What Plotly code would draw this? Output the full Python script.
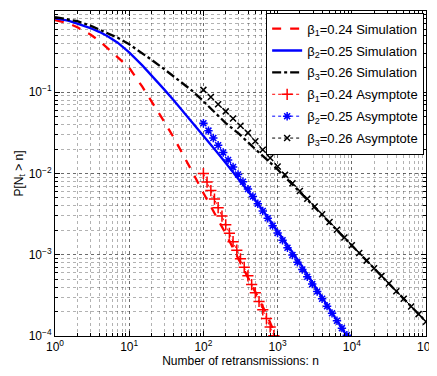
import plotly.graph_objects as go

# ---- data ----
n_sim1 = [1, 1.5, 2, 3, 4, 5, 7, 10, 15, 20, 30, 40, 50, 70, 100, 150, 200, 300, 400, 500, 700, 900, 935]
p_sim1 = [0.776, 0.708, 0.631, 0.513, 0.427, 0.355, 0.275, 0.200, 0.117, 0.0776, 0.0427, 0.0275,
          0.0191, 0.0107, 0.00575, 0.00295, 0.00182, 0.000871, 0.000525, 0.000355, 0.000191, 0.000112, 0.0001]

n_sim2 = [1, 1.5, 2, 3, 4, 5, 7, 10, 15, 20, 30, 40, 50, 70, 100, 150, 200, 300, 400, 500, 700,
          1000, 1500, 2000, 3000, 4000, 5000, 7000, 8500, 8600]
p_sim2 = [0.813, 0.759, 0.700, 0.617, 0.550, 0.495, 0.407, 0.309, 0.214, 0.162, 0.107, 0.0794,
          0.0624, 0.0432, 0.0292, 0.0186, 0.0135, 0.00851, 0.00610, 0.00468, 0.00309,
          0.00197, 0.00116, 0.000794, 0.000447, 0.000299, 0.000219, 0.000136, 0.000104, 0.0001]

n_sim3 = [1, 1.5, 2, 3, 4, 5, 7, 10, 15, 20, 30, 40, 50, 70, 100, 150, 200, 300, 400, 500, 700,
          1000, 2000, 4000, 10000, 20000, 40000, 100000]
p_sim3 = [0.841, 0.794, 0.750, 0.661, 0.589, 0.537, 0.468, 0.389, 0.302, 0.251, 0.191, 0.155,
          0.132, 0.105, 0.0776, 0.0537, 0.0417, 0.0309, 0.0245, 0.0200, 0.0151,
          0.0112, 0.00589, 0.00309, 0.00129, 0.000676, 0.000355, 0.000150]

n_asy1 = [100, 112, 126, 141, 158, 178, 200, 224, 251, 282, 316, 355, 398, 447, 501, 562, 631, 708, 794, 891]
p_asy1 = [0.0100, 0.00785, 0.00617, 0.00484, 0.0038, 0.00299, 0.00234, 0.00184, 0.00145, 0.00114,
          0.00089, 0.0007, 0.00055, 0.00043, 0.00034, 0.000266, 0.00021, 0.000164, 0.000129, 0.000101]

n_asy2 = [100, 117, 136, 158, 185, 215, 251, 293, 341, 398, 464, 541, 631, 736, 858, 1000, 1166, 1359,
          1585, 1848, 2154, 2512, 2929, 3415, 3981, 4642, 5412, 6310, 7356, 8577]
p_asy2 = [0.0415, 0.0337, 0.0274, 0.0223, 0.0181, 0.0147, 0.0120, 0.00973, 0.00791, 0.00643,
          0.00522, 0.00425, 0.00345, 0.00281, 0.00228, 0.00185, 0.00151, 0.00122, 0.000995, 0.000809,
          0.000658, 0.000535, 0.000435, 0.000353, 0.000287, 0.000233, 0.000190, 0.000154, 0.000125, 0.000102]

n_asy3 = [100, 126, 158, 200, 251, 316, 398, 501, 631, 794, 1000, 1259, 1585, 1995, 2512, 3162, 3981,
          5012, 6310, 7943, 10000, 12589, 15849, 19953, 25119, 31623, 39811, 50119, 63096, 79433, 100000]
p_asy3 = [0.107, 0.0875, 0.0713, 0.0582, 0.0475, 0.0387, 0.0316, 0.0249, 0.0196, 0.0155, 0.0122,
          0.00962, 0.00759, 0.00610, 0.00489, 0.00393, 0.00315, 0.00253, 0.00203, 0.00163, 0.00131,
          0.00105, 0.000847, 0.000682, 0.000550, 0.000443, 0.000356, 0.000287, 0.000231, 0.000186, 0.000150]

names = ["β<sub>1</sub>=0.24 Simulation", "β<sub>2</sub>=0.25 Simulation", "β<sub>3</sub>=0.26 Simulation",
         "β<sub>1</sub>=0.24 Asymptote", "β<sub>2</sub>=0.25 Asymptote", "β<sub>3</sub>=0.26 Asymptote"]

x_tickvals = [1, 10, 100, 1000, 10000, 100000]
x_ticktext = ["10<sup>0</sup>", "10<sup>1</sup>", "10<sup>2</sup>", "10<sup>3</sup>", "10<sup>4</sup>", "10<sup>5</sup>"]
y_tickvals = [1e-4, 1e-3, 1e-2, 1e-1, 1]
y_ticktext = ["10<sup>−4</sup>", "10<sup>−3</sup>", "10<sup>−2</sup>", "10<sup>−1</sup>", "10<sup>0</sup>"]

RED, BLUE, BLACK = "#ff0000", "#0000ff", "#000000"
FONT = "Liberation Sans, Arial, sans-serif"

fig = go.Figure()
fig.add_trace(go.Scatter(x=n_sim1, y=p_sim1, mode="lines", name=names[0], legendgroup="a",
                         line=dict(color=RED, width=2.3, dash="dash")))
fig.add_trace(go.Scatter(x=n_sim2, y=p_sim2, mode="lines", name=names[1], legendgroup="b",
                         line=dict(color=BLUE, width=2.3)))
fig.add_trace(go.Scatter(x=n_sim3, y=p_sim3, mode="lines", name=names[2], legendgroup="c",
                         line=dict(color=BLACK, width=2.3, dash="dashdot")))
fig.add_trace(go.Scatter(x=n_asy1, y=p_asy1, mode="lines+markers", name=names[3], legendgroup="d",
                         line=dict(color=RED, width=1, dash="dot"),
                         marker=dict(symbol="cross-thin", size=8, line=dict(color=RED, width=1.5))))
fig.add_trace(go.Scatter(x=n_asy2, y=p_asy2, mode="lines+markers", name=names[4], legendgroup="e",
                         line=dict(color=BLUE, width=1, dash="dot"),
                         marker=dict(symbol="asterisk-open", size=7, line=dict(color=BLUE, width=1.5))))
fig.add_trace(go.Scatter(x=n_asy3, y=p_asy3, mode="lines+markers", name=names[5], legendgroup="f",
                         line=dict(color=BLACK, width=1, dash="dot"),
                         marker=dict(symbol="x-thin-open", size=6, line=dict(color=BLACK, width=1.5))))

axis_common = dict(
    type="log", showline=True, linecolor="black", linewidth=1, mirror="ticks",
    ticks="inside", ticklen=5, tickcolor="black", automargin=False,
    showgrid=True, gridcolor="rgba(0,0,0,0.4)", griddash="dot", gridwidth=1,
    zeroline=False,
    minor=dict(dtick="D1", ticks="inside", ticklen=3, tickcolor="black",
               showgrid=True, gridcolor="rgba(0,0,0,0.3)", griddash="dot", gridwidth=1),
    tickfont=dict(family=FONT, size=12, color="black"),
)

fig.update_xaxes(**axis_common, range=[0, 5], tickvals=x_tickvals, ticktext=x_ticktext,
                 title=dict(text="Number of retransmissions: n", standoff=2,
                            font=dict(family=FONT, size=12, color="black")))
fig.update_yaxes(**axis_common, range=[-4, 0], tickvals=y_tickvals, ticktext=y_ticktext,
                 title=dict(text="P[N<sub>t</sub> > n]", standoff=2,
                            font=dict(family=FONT, size=12, color="black")))

# the page body adds an 8px margin, so the figure is sized/positioned to compensate
fig.update_layout(
    width=429, height=360,
    margin=dict(l=47, r=11, t=3, b=32, autoexpand=False),
    paper_bgcolor="white", plot_bgcolor="white",
    font=dict(family=FONT, size=12, color="black"),
    showlegend=True,
    legend=dict(x=0.995, y=0.995, xanchor="right", yanchor="top",
                bgcolor="white", bordercolor="black", borderwidth=1,
                font=dict(family=FONT, size=13, color="black"), tracegroupgap=2, itemwidth=30),
)

fig.write_html("out.html")
